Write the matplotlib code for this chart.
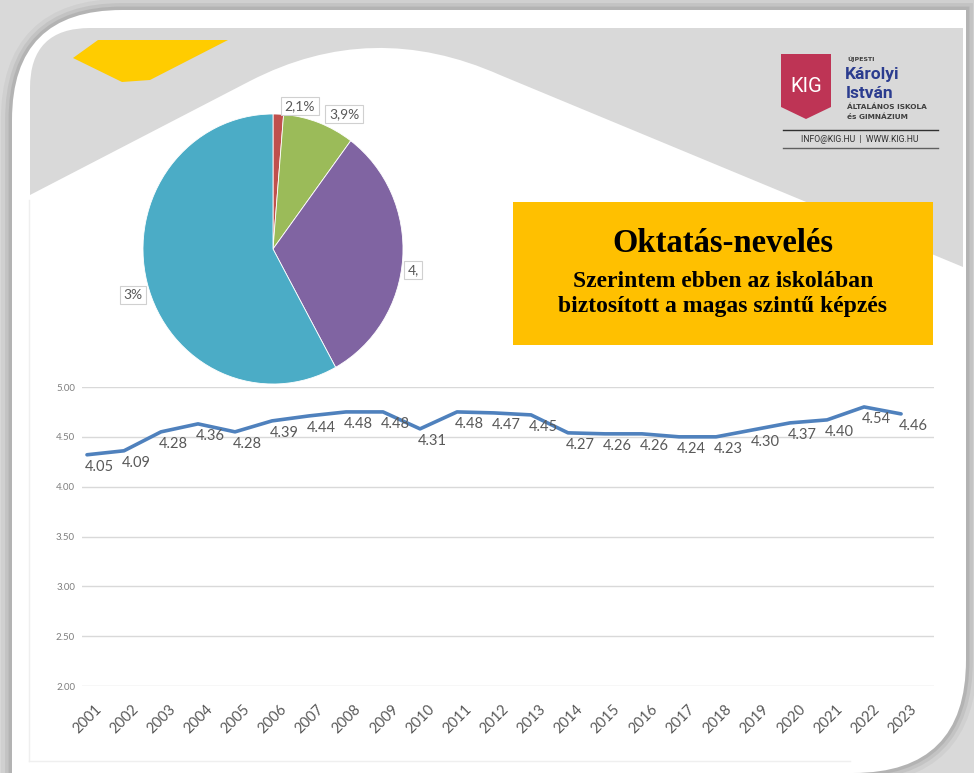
import matplotlib
matplotlib.use("Agg")
import matplotlib.pyplot as plt
import matplotlib.transforms as mtransforms
from matplotlib.patches import Rectangle, Polygon, PathPatch
from matplotlib.path import Path

# line chart data (the plotted line and the printed labels differ in the source slide)
years = [str(y) for y in range(2001, 2024)]
line_values = [4.32, 4.36, 4.55, 4.63, 4.55, 4.66, 4.71, 4.75, 4.75, 4.58, 4.75, 4.74,
               4.72, 4.54, 4.53, 4.53, 4.50, 4.50, 4.57, 4.64, 4.67, 4.80, 4.73]
value_labels = ["4.05", "4.09", "4.28", "4.36", "4.28", "4.39", "4.44", "4.48", "4.48",
                "4.31", "4.48", "4.47", "4.45", "4.27", "4.26", "4.26", "4.24", "4.23",
                "4.30", "4.37", "4.40", "4.54", "4.46"]
y_ticks = [2.0, 2.5, 3.0, 3.5, 4.0, 4.5, 5.0]

# pie chart (labels are cut off in the original picture)
pie_shares = [1.3, 8.9, 31.8, 58.0]
pie_colors = ["#C0504D", "#9BBB59", "#8064A2", "#4BACC6"]
pie_labels = ["2,1%", "3,9%", "4,", "3%"]

title = "Oktatás-nevelés"
subtitle = "Szerintem ebben az iskolában\nbiztosított a magas szintű képzés"

W, H = 974, 773
fig = plt.figure(figsize=(W / 100, H / 100), dpi=100, facecolor="#d9d9d9")

# background drawn in pixel coordinates
bg = fig.add_axes([0, 0, 1, 1], zorder=0)
bg.set_xlim(0, W)
bg.set_ylim(H, 0)
bg.axis("off")

frame = Path(
    [(12, 773), (12, 120), (12, 10), (122, 10), (966, 10), (966, 660), (966, 773), (853, 773), (12, 773)],
    [Path.MOVETO, Path.LINETO, Path.CURVE3, Path.CURVE3, Path.LINETO, Path.LINETO,
     Path.CURVE3, Path.CURVE3, Path.CLOSEPOLY])
for lw, a in [(16, 0.04), (10, 0.06), (5, 0.08)]:
    bg.add_patch(PathPatch(frame, facecolor="none", edgecolor="black", lw=lw, alpha=a))
bg.add_patch(PathPatch(frame, facecolor="white", edgecolor="none"))

band = Path(
    [(30, 195), (30, 88), (30, 28), (90, 28), (963, 28), (963, 267), (500, 75),
     (372, 18), (250, 81), (30, 195)],
    [Path.MOVETO, Path.LINETO, Path.CURVE3, Path.CURVE3, Path.LINETO, Path.LINETO,
     Path.LINETO, Path.CURVE3, Path.CURVE3, Path.CLOSEPOLY])
bg.add_patch(PathPatch(band, facecolor="#d9d9d9", edgecolor="none"))
bg.add_patch(Polygon([(73, 58), (98, 40), (228, 40), (150, 80), (122, 82)],
                     closed=True, facecolor="#FFCC00", edgecolor="none"))

# faint chart-area border
bg.plot([29, 29], [200, 761], color="#efefef", lw=1)
bg.plot([29, 850], [761, 761], color="#efefef", lw=1)

# title box
bg.add_patch(Rectangle((513, 202), 420, 143, facecolor="#FFC000", edgecolor="none"))
bg.text(723, 244, title, ha="center", va="center", fontsize=23.5, fontweight="bold",
        family="Liberation Serif", color="black")
bg.text(723, 294, subtitle, ha="center", va="center", fontsize=17, fontweight="bold",
        family="Liberation Serif", color="black", linespacing=1.2)

# school logo
bg.add_patch(Polygon([(781, 54), (831, 54), (831, 107), (806, 119), (781, 107)],
                     closed=True, facecolor="#BE3455", edgecolor="none"))
bg.text(806, 86, "KIG", ha="center", va="center", fontsize=14.5, color="white",
        family="Roboto")
bg.text(847, 59, "ÚJPESTI", ha="left", va="center", fontsize=4.5, color="#404040",
        family="DejaVu Sans", fontweight="bold")
bg.text(845, 74, "Károlyi", ha="left", va="center", fontsize=12.5, color="#2B3C8F",
        family="Roboto", fontweight="bold")
bg.text(846, 93, "István", ha="left", va="center", fontsize=12.5, color="#2B3C8F",
        family="Roboto", fontweight="bold")
bg.text(847, 107, "ÁLTALÁNOS ISKOLA", ha="left", va="center", fontsize=5.3, color="#404040",
        family="DejaVu Sans", fontweight="bold")
bg.text(847, 117, "és GIMNÁZIUM", ha="left", va="center", fontsize=5.3, color="#404040",
        family="DejaVu Sans", fontweight="bold")
bg.plot([783, 938], [130, 130], color="#303030", lw=1)
bg.plot([783, 938], [148, 148], color="#606060", lw=1)
bg.text(860, 139, "INFO@KIG.HU  |  WWW.KIG.HU", ha="center", va="center", fontsize=6.2,
        color="#303030", family="Roboto")

# pie chart
pie_ax = fig.add_axes([143 / W, 1 - 384 / H, 260 / W, 270 / H], zorder=3)
pie_ax.pie(pie_shares, colors=pie_colors, startangle=90, counterclock=False,
           wedgeprops=dict(edgecolor="white", linewidth=0.6))
pie_ax.set_aspect("auto")
pie_ax.set_xlim(-1, 1)
pie_ax.set_ylim(-1, 1)
label_pos = [(300, 106), (344, 114), (413, 270), (133, 295)]
for txt, (px, py) in zip(pie_labels, label_pos):
    pie_ax.text(px, py, txt, transform=bg.transData, ha="center", va="center", fontsize=10,
                family="Lato", color="#595959",
                bbox=dict(boxstyle="square,pad=0.25", facecolor="white", edgecolor="#d0d0d0", lw=0.8))

# line chart
ax = fig.add_axes([82 / W, 1 - 686 / H, 852 / W, 299 / H], zorder=2)
ax.patch.set_alpha(0)
x = list(range(len(years)))
ax.plot(x, line_values, color="#4F81BD", lw=2.6, solid_capstyle="round", zorder=3)
for xi, v, lbl in zip(x, line_values, value_labels):
    ax.annotate(lbl, (xi, v), xytext=(9, -9), textcoords="offset points", ha="center",
                va="center", fontsize=10.5, family="Lato", color="#595959")
ax.set_xlim(-0.135, 22.89)
ax.set_ylim(2, 5)
ax.set_yticks(y_ticks)
ax.set_yticklabels([f"{t:.2f}" for t in y_ticks], fontsize=7, color="#7f7f7f", family="Lato")
ax.grid(axis="y", color="#d9d9d9", lw=1)
ax.set_axisbelow(True)
ax.tick_params(axis="both", length=0)
ax.tick_params(axis="x", pad=15)
ax.tick_params(axis="y", pad=5)
ax.set_xticks(x)
ax.set_xticklabels(years, rotation=45, ha="right", va="center", rotation_mode="anchor",
                   fontsize=10.5, color="#595959", family="Lato")
shift = mtransforms.ScaledTranslation(0.13, 0, fig.dpi_scale_trans)
for lab in ax.get_xticklabels():
    lab.set_transform(lab.get_transform() + shift)
for s in ax.spines.values():
    s.set_visible(False)

fig.savefig("out.png", dpi=100, facecolor=fig.get_facecolor())
